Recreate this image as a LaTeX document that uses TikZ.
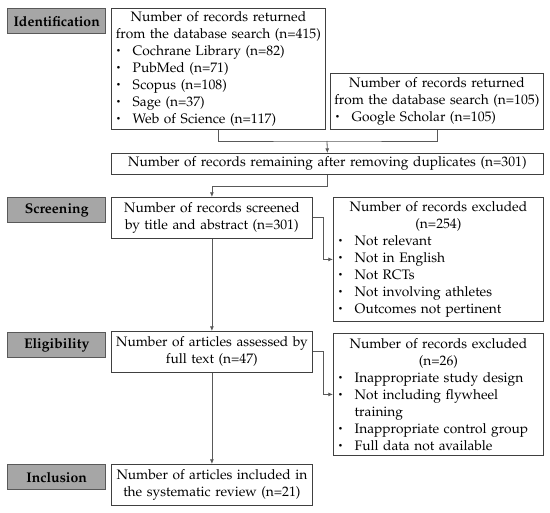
\documentclass[tikz,border=0pt]{standalone}
\usepackage[T1]{fontenc}
\usepackage[sc]{mathpazo}
\usetikzlibrary{arrows.meta}
\setlength{\parindent}{0pt}
\newcommand{\bul}{\makebox[14pt][l]{\hspace{1.5pt}\raisebox{1.6pt}{\fontsize{6}{6}\selectfont\textbullet}}}
\newcommand{\cont}{\hspace*{14pt}}
\newcommand{\head}[1]{{\centering #1\par}}

\begin{document}
\begin{tikzpicture}[x=0.75pt, y=-0.75pt, >={Latex[length=3.5pt,width=3pt]}, %1 单位 = 1 像素
    box/.style={draw=black!75, line width=0.6pt, anchor=north west, inner sep=2pt, align=left,
        font=\fontsize{10.3}{12.75}\selectfont},
    stage/.style={draw=black!65, fill=black!35, line width=1pt, anchor=north west,
        minimum width=73.5pt, minimum height=18.75pt, inner sep=0pt, font=\bfseries\fontsize{10.5}{12}\selectfont},
    conn/.style={draw=black!65, line width=0.6pt}]
    \useasboundingbox (0, 0) rectangle (550, 513);
    % 左侧阶段标签
    \node[stage] (ident) at (7, 8) {Identification};
    \node[stage] (screen) at (7, 197) {Screening};
    \node[stage] (elig) at (7, 332) {Eligibility};
    \node[stage] (incl) at (7, 464) {Inclusion};
    % 流程框
    \node[box, text width=156.5pt, minimum height=90.75pt] (dbA) at (111, 8) {%
        \head{Number of records returned\\from the database search (n=415)}
        \bul Cochrane Library (n=82)\\
        \bul PubMed (n=71)\\
        \bul Scopus (n=108)\\
        \bul Sage (n=37)\\
        \bul Web of Science (n=117)};
    \node[box, text width=155.75pt, minimum height=42pt] (dbB) at (330, 73) {%
        \head{Number of records returned\\from the database search (n=105)}
        \bul Google Scholar (n=105)};
    \node[box, text width=320pt, minimum height=15.75pt, align=center] (dup) at (111, 153)
        {Number of records remaining after removing duplicates (n=301)};
    \node[box, text width=146.75pt, minimum height=30.75pt, align=center] (scr) at (111, 197)
        {Number of records screened\\by title and abstract (n=301)};
    \node[box, text width=153.5pt, minimum height=93pt] (excA) at (333, 197) {%
        \head{Number of records excluded\\(n=254)}
        \bul Not relevant\\
        \bul Not in English\\
        \bul Not RCTs\\
        \bul Not involving athletes\\
        \bul Outcomes not pertinent};
    \node[box, text width=146.75pt, minimum height=30.75pt, align=center] (full) at (111, 331)
        {Number of articles assessed by\\full text (n=47)};
    \node[box, text width=153.5pt, minimum height=91.5pt] (excB) at (333, 333) {%
        \head{Number of records excluded\\(n=26)}
        \bul Inappropriate study design\\
        \bul Not including flywheel\\
        \cont training\\
        \bul Inappropriate control group\\
        \bul Full data not available};
    \node[box, text width=146.75pt, minimum height=30.75pt, align=center] (incl2) at (111, 464)
        {Number of articles included in\\the systematic review (n=21)};
    % 连线
    \coordinate (join) at (327, 141);
    \draw[conn] (dbA.south) |- (join) -| (dbB.south);
    \draw[conn, ->] (join) -- (dup.north);
    \draw[conn, ->] (dup.south) -- ++(0, 12) -| (scr.north);
    \draw[conn, ->] (scr.east) -- ++(11, 0) |- (excA.west);
    \draw[conn, ->] (scr.south) -- (full.north);
    \draw[conn, ->] (full.east) -- ++(11, 0) |- (excB.west);
    \draw[conn, ->] (full.south) -- (incl2.north);
\end{tikzpicture}
\end{document}
